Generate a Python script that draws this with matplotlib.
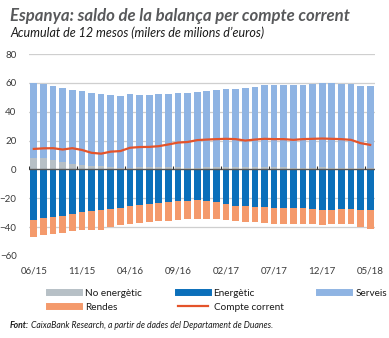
import numpy as np
import matplotlib.pyplot as plt
from matplotlib.lines import Line2D

plt.rcParams['font.family'] = ['Lato', 'DejaVu Sans']

# months 06/15 .. 05/18, 12-month cumulative, EUR bn
months = ['06/15', '07/15', '08/15', '09/15', '10/15', '11/15', '12/15',
          '01/16', '02/16', '03/16', '04/16', '05/16', '06/16', '07/16',
          '08/16', '09/16', '10/16', '11/16', '12/16', '01/17', '02/17',
          '03/17', '04/17', '05/17', '06/17', '07/17', '08/17', '09/17',
          '10/17', '11/17', '12/17', '01/18', '02/18', '03/18', '04/18',
          '05/18']

no_energetic = [8.2, 7.9, 6.7, 5.3, 4.0, 3.0, 2.3, 2.2, 1.4, 1.0, 1.3, 1.5,
                1.4, 1.5, 1.5, 1.5, 1.3, 1.3, 1.8, 1.8, 2.0, 2.0, 2.0, 2.0,
                2.0, 2.0, 1.5, 1.2, 1.2, 1.0, 1.5, 1.3, 1.2, 1.2, 1.0, 1.0]
serveis = [51.8, 51.2, 51.3, 51.2, 51.4, 51.1, 50.5, 49.9, 50.5, 49.9, 50.8,
           50.3, 50.2, 50.5, 50.6, 51.6, 51.6, 52.6, 52.6, 53.5, 53.5, 54.0,
           54.5, 54.9, 56.3, 56.3, 57.0, 57.1, 57.6, 58.5, 58.4, 58.6, 57.8,
           57.8, 56.9, 56.6]
energetic = [-35.0, -34.0, -33.0, -32.2, -30.8, -29.8, -29.0, -28.5, -27.6,
             -26.5, -25.5, -24.7, -24.0, -23.2, -22.6, -22.2, -21.7, -21.5,
             -21.7, -22.7, -24.1, -25.2, -25.4, -25.9, -26.1, -26.6, -26.6,
             -26.6, -27.1, -27.8, -28.3, -28.0, -27.3, -27.6, -28.0, -28.5]
rendes = [-11.7, -11.5, -12.0, -11.8, -12.2, -12.2, -13.0, -13.5, -12.2,
          -12.2, -12.6, -12.3, -12.3, -12.5, -12.9, -13.1, -12.9, -12.9,
          -12.6, -11.6, -10.9, -10.3, -11.0, -10.8, -11.3, -11.0, -11.5,
          -11.5, -11.0, -10.3, -10.0, -10.1, -10.5, -10.2, -12.3, -12.7]
compte_corrent = [14.2, 14.6, 14.7, 13.8, 14.7, 13.5, 11.5, 10.9, 12.3, 12.7,
                  15.0, 15.5, 15.6, 16.1, 17.3, 18.6, 19.0, 20.3, 20.7, 21.0,
                  21.2, 21.0, 20.0, 20.7, 21.2, 21.0, 21.0, 20.5, 21.0, 21.2,
                  21.4, 21.2, 21.0, 20.5, 18.2, 17.0]

c_noen = '#b7c0c6'
c_en = '#0b6fba'
c_serv = '#8fb4e3'
c_rend = '#f49a6c'
c_cc = '#e4532a'
grid_c = '#cfcfcf'
txt = '#3a3a3a'

x = np.arange(len(months))
w = 0.7

fig = plt.figure(figsize=(3.89, 3.38), dpi=100)
ax = fig.add_axes([0.0746, 0.243, 0.8894, 0.597])

ax.bar(x, no_energetic, w, color=c_noen, zorder=2)
ax.bar(x, serveis, w, bottom=no_energetic, color=c_serv, zorder=2)
ax.bar(x, energetic, w, color=c_en, zorder=2)
ax.bar(x, rendes, w, bottom=energetic, color=c_rend, zorder=2)
ax.plot(x, compte_corrent, color=c_cc, lw=1.6, zorder=4)

ax.set_xlim(-0.5, len(months) - 0.5)
ax.set_ylim(-60, 80)
ax.set_yticks(np.arange(-60, 81, 20))
for v in [80, 60, 40, 20, -20, -40]:
    ax.axhline(v, color=grid_c, lw=0.9, zorder=1)
ax.axhline(0, color='#555555', lw=1.0, zorder=3)
# small upward ticks on the zero line between categories
edges = np.arange(-0.5, len(months), 5)
ax.vlines(edges, 0, 2.2, color='#333333', lw=0.8, zorder=3)

ax.set_xticks(x[::5])
ax.set_xticklabels(months[::5])
ax.tick_params(axis='both', length=0, labelsize=7, labelcolor=txt)
ax.tick_params(axis='x', pad=8)
ax.tick_params(axis='y', pad=9)
for s in ax.spines.values():
    s.set_visible(False)

fig.text(0.026, 0.953, 'Espanya: saldo de la balança per compte corrent',
         fontsize=12.1, fontweight='bold', style='italic', color='#58595b',
         va='center')
fig.text(0.028, 0.902, "Acumulat de 12 mesos (milers de milions d\u2019euros)",
         fontsize=9.0, style='italic', color='#1a1a1a', va='center')

handles = [Line2D([], [], color=c_noen, lw=5),
           Line2D([], [], color=c_rend, lw=5),
           Line2D([], [], color=c_en, lw=5),
           Line2D([], [], color=c_cc, lw=1.6),
           Line2D([], [], color=c_serv, lw=5)]
labels = ['No energètic', 'Rendes', 'Energètic', 'Compte corrent', 'Serveis']
fig.legend(handles, labels, ncol=3, loc='upper left',
           bbox_to_anchor=(0.125, 0.146), frameon=False, fontsize=7.2,
           handlelength=3.0, handletextpad=0.6, columnspacing=3.6,
           labelspacing=0.5, borderaxespad=0, borderpad=0,
           labelcolor='#1a1a1a')

fig.text(0.026, 0.038, 'Font:', fontsize=6.2, fontweight='bold',
         style='italic', color='#1a1a1a', va='center')
fig.text(0.079, 0.038,
         'CaixaBank Research, a partir de dades del Departament de Duanes.',
         fontsize=6.2, style='italic', color='#1a1a1a', va='center')

fig.savefig('out.png', dpi=100)
